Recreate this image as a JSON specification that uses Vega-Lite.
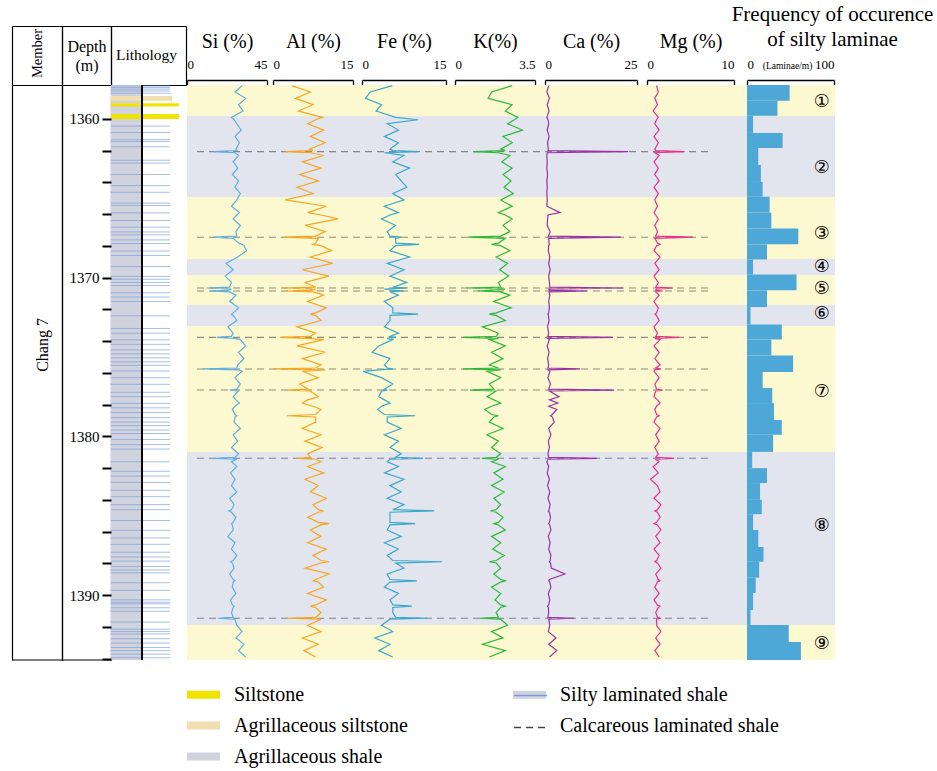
{
"$schema":"https://vega.github.io/schema/vega-lite/v6.json",
"width":823,"height":575,
"autosize":{"type":"none"},
"padding":{"left":12,"top":85,"right":102,"bottom":111},
"background":"white",
"config":{"view":{"stroke":null},"font":"Liberation Serif","axis":{"grid":false,"labelFont":"Liberation Serif","titleFont":"Liberation Serif","labelColor":"black","titleColor":"black","titleFontWeight":"normal"}},
"datasets":{
"bands":[{"top":1357.86,"bottom":1359.81,"zone":"silt"},{"top":1359.81,"bottom":1364.91,"zone":"shale"},{"top":1364.91,"bottom":1368.82,"zone":"silt"},{"top":1368.82,"bottom":1369.83,"zone":"shale"},{"top":1369.83,"bottom":1371.72,"zone":"silt"},{"top":1371.72,"bottom":1373.04,"zone":"shale"},{"top":1373.04,"bottom":1380.98,"zone":"silt"},{"top":1380.98,"bottom":1391.88,"zone":"shale"},{"top":1391.88,"bottom":1394.09,"zone":"silt"}],
"curves":[
{"depth":1357.9,"si":31,"al":3.5,"fe":5.4,"k":2.5,"ca":1.0,"mg":1.1},
{"depth":1358.3,"si":27,"al":7,"fe":1.5,"k":1.6,"ca":0.5,"mg":1.3},
{"depth":1358.7,"si":33,"al":4.2,"fe":0.6,"k":1.45,"ca":1.2,"mg":0.9},
{"depth":1359.1,"si":29,"al":7.5,"fe":3.5,"k":2.5,"ca":0.6,"mg":1.2},
{"depth":1359.5,"si":31.5,"al":4.8,"fe":2.5,"k":2.2,"ca":1.1,"mg":0.7},
{"depth":1359.9,"si":25,"al":9.3,"fe":6,"k":2.75,"ca":0.5,"mg":1.3},
{"depth":1360.05,"si":26.5,"al":8,"fe":10,"k":2.6,"ca":0.8,"mg":1.1},
{"depth":1360.3,"si":28,"al":6.5,"fe":4.5,"k":2.3,"ca":1.0,"mg":0.9},
{"depth":1360.7,"si":30.5,"al":9.5,"fe":6.5,"k":2.95,"ca":0.6,"mg":1.4},
{"depth":1361.1,"si":27,"al":7,"fe":4,"k":2.1,"ca":1.1,"mg":0.8},
{"depth":1361.5,"si":29.5,"al":9.8,"fe":6.5,"k":2.5,"ca":0.7,"mg":1.3},
{"depth":1361.9,"si":27.5,"al":6.8,"fe":5,"k":2.0,"ca":0.9,"mg":0.9},
{"depth":1361.99,"si":28,"al":7.5,"fe":5.5,"k":2.2,"ca":0.8,"mg":1.0},
{"depth":1362.06,"si":14.8,"al":2.3,"fe":10,"k":0.8,"ca":22.6,"mg":4.3},
{"depth":1362.13,"si":27,"al":7,"fe":4,"k":1.9,"ca":0.6,"mg":0.9},
{"depth":1362.3,"si":29,"al":9.5,"fe":7.5,"k":2.4,"ca":0.5,"mg":1.4},
{"depth":1362.7,"si":26,"al":5.5,"fe":5.5,"k":2.05,"ca":0.6,"mg":0.8},
{"depth":1363.1,"si":28.5,"al":9,"fe":8.5,"k":2.5,"ca":0.5,"mg":1.3},
{"depth":1363.5,"si":25.5,"al":5,"fe":6,"k":2.1,"ca":0.7,"mg":0.9},
{"depth":1363.9,"si":29,"al":8.5,"fe":7,"k":2.45,"ca":0.5,"mg":1.4},
{"depth":1364.3,"si":27,"al":4.5,"fe":8,"k":2.15,"ca":0.6,"mg":0.8},
{"depth":1364.7,"si":30,"al":7.5,"fe":5.5,"k":2.55,"ca":0.5,"mg":1.3},
{"depth":1365.1,"si":28,"al":2.3,"fe":7.5,"k":2.0,"ca":0.6,"mg":0.9},
{"depth":1365.5,"si":25,"al":10,"fe":4,"k":2.5,"ca":0.5,"mg":1.2},
{"depth":1365.9,"si":29.5,"al":6.5,"fe":6.5,"k":1.9,"ca":4.1,"mg":0.8},
{"depth":1366.05,"si":28,"al":9,"fe":5,"k":2.2,"ca":0.8,"mg":1.0},
{"depth":1366.3,"si":26,"al":12.2,"fe":3.5,"k":2.5,"ca":0.7,"mg":1.3},
{"depth":1366.7,"si":30,"al":6,"fe":6,"k":2.1,"ca":0.6,"mg":0.9},
{"depth":1367.1,"si":27.5,"al":9.8,"fe":4.5,"k":2.4,"ca":1.4,"mg":1.2},
{"depth":1367.38,"si":28,"al":8,"fe":5,"k":2.0,"ca":0.9,"mg":1.0},
{"depth":1367.45,"si":14.8,"al":1.9,"fe":7,"k":0.57,"ca":20.6,"mg":5.3},
{"depth":1367.52,"si":26,"al":8.5,"fe":6,"k":2.2,"ca":1.0,"mg":0.9},
{"depth":1367.82,"si":29,"al":8,"fe":6,"k":1.9,"ca":1.1,"mg":1.2},
{"depth":1367.9,"si":31,"al":7.5,"fe":10.2,"k":1.6,"ca":1.2,"mg":1.5},
{"depth":1367.98,"si":32,"al":9,"fe":6,"k":2.0,"ca":1.0,"mg":1.1},
{"depth":1368.3,"si":33.5,"al":11,"fe":5,"k":2.4,"ca":0.9,"mg":0.8},
{"depth":1368.7,"si":28.5,"al":7,"fe":8.5,"k":1.8,"ca":1.3,"mg":1.5},
{"depth":1369.1,"si":22,"al":11.2,"fe":4.5,"k":2.3,"ca":1.0,"mg":0.9},
{"depth":1369.5,"si":26,"al":5.5,"fe":7.5,"k":1.95,"ca":1.4,"mg":1.4},
{"depth":1369.9,"si":21.5,"al":10.5,"fe":5,"k":2.35,"ca":1.0,"mg":0.8},
{"depth":1370.3,"si":25,"al":6,"fe":8,"k":1.9,"ca":1.2,"mg":1.3},
{"depth":1370.6,"si":24,"al":8,"fe":5.5,"k":2.0,"ca":1.3,"mg":1.0},
{"depth":1370.65,"si":11,"al":1.7,"fe":8,"k":0.5,"ca":21.2,"mg":3.0},
{"depth":1370.72,"si":25,"al":8,"fe":4,"k":2.2,"ca":1.0,"mg":1.1},
{"depth":1370.8,"si":23,"al":7,"fe":6,"k":1.5,"ca":1.2,"mg":1.0},
{"depth":1370.84,"si":13,"al":2.5,"fe":7.5,"k":1.0,"ca":11.4,"mg":1.8},
{"depth":1370.9,"si":24,"al":7.5,"fe":5,"k":2.0,"ca":1.1,"mg":1.0},
{"depth":1371.1,"si":27.5,"al":9.5,"fe":6.5,"k":2.4,"ca":1.3,"mg":1.4},
{"depth":1371.5,"si":24,"al":6.5,"fe":4,"k":1.7,"ca":1.0,"mg":0.8},
{"depth":1371.9,"si":29,"al":10,"fe":5.5,"k":2.45,"ca":1.2,"mg":1.3},
{"depth":1372.22,"si":26,"al":8,"fe":5.5,"k":1.8,"ca":1.0,"mg":1.1},
{"depth":1372.3,"si":25,"al":7,"fe":10,"k":1.5,"ca":0.8,"mg":0.9},
{"depth":1372.38,"si":26,"al":8,"fe":5,"k":1.8,"ca":0.9,"mg":1.1},
{"depth":1372.7,"si":28,"al":9,"fe":5,"k":2.2,"ca":1.1,"mg":1.4},
{"depth":1373.1,"si":23,"al":4.5,"fe":4,"k":1.2,"ca":0.7,"mg":0.8},
{"depth":1373.5,"si":26,"al":8,"fe":6.5,"k":1.9,"ca":1.0,"mg":1.2},
{"depth":1373.7,"si":25,"al":7,"fe":5,"k":1.8,"ca":0.8,"mg":1.0},
{"depth":1373.76,"si":16.7,"al":1.3,"fe":6,"k":0.35,"ca":18.5,"mg":3.7},
{"depth":1373.82,"si":27,"al":6.5,"fe":4.5,"k":1.9,"ca":0.7,"mg":0.9},
{"depth":1373.9,"si":30,"al":9.5,"fe":5.5,"k":1.5,"ca":1.2,"mg":1.5},
{"depth":1374.3,"si":33,"al":4.5,"fe":3,"k":2.2,"ca":0.6,"mg":0.8},
{"depth":1374.7,"si":29,"al":9.8,"fe":1.8,"k":1.6,"ca":1.1,"mg":1.4},
{"depth":1375.1,"si":32,"al":5.5,"fe":5,"k":2.1,"ca":0.7,"mg":0.9},
{"depth":1375.5,"si":28.5,"al":9,"fe":4,"k":1.5,"ca":1.0,"mg":1.5},
{"depth":1375.69,"si":28,"al":8,"fe":4.5,"k":1.9,"ca":0.8,"mg":1.0},
{"depth":1375.75,"si":9,"al":0.2,"fe":5.5,"k":0.35,"ca":9.5,"mg":1.6},
{"depth":1375.81,"si":29,"al":9.8,"fe":3,"k":2.0,"ca":0.9,"mg":0.9},
{"depth":1375.9,"si":31,"al":5.5,"fe":0.2,"k":1.4,"ca":1.3,"mg":0.8},
{"depth":1376.3,"si":27,"al":8.5,"fe":3.5,"k":2.0,"ca":0.8,"mg":1.4},
{"depth":1376.7,"si":30,"al":5,"fe":5.5,"k":1.5,"ca":1.5,"mg":0.9},
{"depth":1377.02,"si":28,"al":6.5,"fe":4,"k":1.7,"ca":1.0,"mg":1.1},
{"depth":1377.08,"si":24,"al":2.8,"fe":4.5,"k":0.66,"ca":18.8,"mg":1.8},
{"depth":1377.14,"si":29,"al":7,"fe":3.5,"k":1.8,"ca":1.2,"mg":1.0},
{"depth":1377.5,"si":26,"al":8.5,"fe":3,"k":1.4,"ca":3.8,"mg":0.8},
{"depth":1377.7,"si":27.5,"al":6.5,"fe":4,"k":1.7,"ca":1.2,"mg":1.2},
{"depth":1377.9,"si":29.5,"al":5.5,"fe":5,"k":2.0,"ca":3.5,"mg":1.5},
{"depth":1378.1,"si":27,"al":7.5,"fe":3.5,"k":1.6,"ca":1.0,"mg":1.1},
{"depth":1378.3,"si":25.5,"al":9,"fe":2.8,"k":1.3,"ca":3.2,"mg":0.9},
{"depth":1378.62,"si":27,"al":8,"fe":4,"k":1.6,"ca":2.0,"mg":1.1},
{"depth":1378.7,"si":28,"al":2.6,"fe":9.5,"k":1.9,"ca":1.5,"mg":1.4},
{"depth":1378.78,"si":27,"al":8,"fe":4.5,"k":1.7,"ca":2.0,"mg":1.1},
{"depth":1379.1,"si":26.5,"al":8,"fe":4.5,"k":1.5,"ca":2.5,"mg":0.8},
{"depth":1379.5,"si":30,"al":5.5,"fe":7,"k":2.1,"ca":1.0,"mg":1.5},
{"depth":1379.9,"si":26,"al":9,"fe":4,"k":1.4,"ca":1.6,"mg":1.0},
{"depth":1380.3,"si":28.5,"al":6,"fe":6.5,"k":1.9,"ca":0.9,"mg":1.4},
{"depth":1380.7,"si":25,"al":9.2,"fe":5,"k":1.6,"ca":1.2,"mg":0.9},
{"depth":1381.1,"si":29,"al":6.5,"fe":7,"k":2.0,"ca":0.8,"mg":1.3},
{"depth":1381.32,"si":27,"al":7,"fe":6,"k":1.8,"ca":1.0,"mg":1.0},
{"depth":1381.38,"si":15.8,"al":4.5,"fe":10.9,"k":1.18,"ca":14.1,"mg":3.1},
{"depth":1381.44,"si":28,"al":8,"fe":5,"k":1.9,"ca":0.8,"mg":1.0},
{"depth":1381.6,"si":25,"al":9,"fe":4.5,"k":1.6,"ca":0.5,"mg":1.4},
{"depth":1381.9,"si":28,"al":6.5,"fe":6.5,"k":2.2,"ca":1.0,"mg":0.7},
{"depth":1382.3,"si":24.5,"al":9.5,"fe":4,"k":1.7,"ca":0.6,"mg":1.3},
{"depth":1382.7,"si":27,"al":6,"fe":7.5,"k":2.1,"ca":1.2,"mg":0.4},
{"depth":1383.1,"si":25,"al":8.5,"fe":5,"k":1.6,"ca":0.7,"mg":1.2},
{"depth":1383.5,"si":28,"al":7,"fe":7,"k":2.15,"ca":1.3,"mg":1.5},
{"depth":1383.9,"si":24,"al":10,"fe":4.5,"k":1.7,"ca":0.8,"mg":0.8},
{"depth":1384.3,"si":26.5,"al":7.5,"fe":7.5,"k":2.0,"ca":1.4,"mg":1.6},
{"depth":1384.62,"si":25,"al":8.5,"fe":5.5,"k":1.8,"ca":1.1,"mg":1.2},
{"depth":1384.7,"si":23.5,"al":9.5,"fe":12.9,"k":1.55,"ca":0.9,"mg":0.9},
{"depth":1384.78,"si":25,"al":8.5,"fe":5,"k":1.8,"ca":1.2,"mg":1.2},
{"depth":1385.1,"si":27.5,"al":6.5,"fe":5,"k":2.1,"ca":1.5,"mg":1.5},
{"depth":1385.42,"si":26,"al":8.5,"fe":5,"k":1.9,"ca":1.2,"mg":1.1},
{"depth":1385.5,"si":25,"al":10.5,"fe":9.5,"k":1.7,"ca":1.0,"mg":0.8},
{"depth":1385.58,"si":25.5,"al":9,"fe":5,"k":1.9,"ca":1.3,"mg":1.2},
{"depth":1385.9,"si":26,"al":7,"fe":4.5,"k":2.2,"ca":1.6,"mg":1.6},
{"depth":1386.3,"si":23,"al":9,"fe":7,"k":1.6,"ca":0.9,"mg":1.0},
{"depth":1386.7,"si":27,"al":6.5,"fe":4,"k":2.0,"ca":1.4,"mg":1.5},
{"depth":1387.1,"si":25,"al":10,"fe":6.5,"k":1.65,"ca":1.0,"mg":0.8},
{"depth":1387.5,"si":28,"al":7.5,"fe":4.5,"k":2.15,"ca":1.6,"mg":1.4},
{"depth":1387.82,"si":26,"al":9,"fe":5.5,"k":1.8,"ca":1.4,"mg":1.1},
{"depth":1387.9,"si":24.5,"al":10.5,"fe":14.3,"k":1.5,"ca":1.2,"mg":0.9},
{"depth":1387.98,"si":25.5,"al":9,"fe":6,"k":1.8,"ca":1.5,"mg":1.2},
{"depth":1388.3,"si":26.5,"al":6,"fe":7.5,"k":2.0,"ca":1.7,"mg":1.6},
{"depth":1388.67,"si":24,"al":10.5,"fe":4.5,"k":1.7,"ca":5.4,"mg":1.0},
{"depth":1389.02,"si":26,"al":8,"fe":5,"k":2.0,"ca":1.2,"mg":1.3},
{"depth":1389.1,"si":27,"al":7.5,"fe":9.8,"k":2.2,"ca":1.0,"mg":1.5},
{"depth":1389.18,"si":26,"al":8.5,"fe":5,"k":2.0,"ca":1.3,"mg":1.2},
{"depth":1389.5,"si":25.5,"al":9.5,"fe":4,"k":1.6,"ca":1.6,"mg":0.9},
{"depth":1389.9,"si":27.5,"al":6.5,"fe":6.5,"k":2.0,"ca":0.9,"mg":1.4},
{"depth":1390.3,"si":24.5,"al":10,"fe":5,"k":1.75,"ca":1.3,"mg":0.8},
{"depth":1390.62,"si":25.5,"al":8,"fe":5.5,"k":2.0,"ca":1.0,"mg":1.2},
{"depth":1390.7,"si":26.5,"al":7,"fe":8.9,"k":2.2,"ca":0.7,"mg":1.5},
{"depth":1390.78,"si":26,"al":8,"fe":5.5,"k":2.0,"ca":0.9,"mg":1.3},
{"depth":1391.1,"si":25,"al":9,"fe":5.5,"k":1.8,"ca":1.0,"mg":1.0},
{"depth":1391.4,"si":26,"al":8,"fe":6,"k":1.9,"ca":0.8,"mg":1.2},
{"depth":1391.46,"si":17.6,"al":2.6,"fe":11.6,"k":1.1,"ca":7.9,"mg":1.6},
{"depth":1391.52,"si":27,"al":9,"fe":5,"k":2.0,"ca":1.0,"mg":1.1},
{"depth":1391.9,"si":28,"al":6.5,"fe":3.5,"k":2.3,"ca":1.3,"mg":1.1},
{"depth":1392.3,"si":31,"al":9,"fe":5.5,"k":1.6,"ca":0.9,"mg":1.6},
{"depth":1392.7,"si":27.5,"al":5.5,"fe":2.3,"k":2.1,"ca":3.0,"mg":1.0},
{"depth":1393.1,"si":32,"al":8.5,"fe":5,"k":1.2,"ca":1.0,"mg":1.5},
{"depth":1393.5,"si":29,"al":5.8,"fe":3,"k":2.2,"ca":3.2,"mg":0.9},
{"depth":1393.9,"si":33,"al":8,"fe":5.5,"k":1.5,"ca":1.2,"mg":1.4}
],
"freq":[{"top":1357.86,"bottom":1358.85,"freq":49},{"top":1358.85,"bottom":1359.8,"freq":35},{"top":1359.8,"bottom":1360.88,"freq":7},{"top":1360.88,"bottom":1361.83,"freq":41},{"top":1361.83,"bottom":1362.9,"freq":13},{"top":1362.9,"bottom":1363.97,"freq":16},{"top":1363.97,"bottom":1364.9,"freq":18},{"top":1364.9,"bottom":1365.9,"freq":26},{"top":1365.9,"bottom":1366.9,"freq":28},{"top":1366.9,"bottom":1367.9,"freq":59},{"top":1367.9,"bottom":1368.85,"freq":23},{"top":1368.85,"bottom":1369.8,"freq":7},{"top":1369.8,"bottom":1370.8,"freq":57},{"top":1370.8,"bottom":1371.85,"freq":23},{"top":1371.85,"bottom":1372.95,"freq":4},{"top":1372.95,"bottom":1373.9,"freq":40},{"top":1373.9,"bottom":1374.9,"freq":28},{"top":1374.9,"bottom":1375.94,"freq":53},{"top":1375.94,"bottom":1376.95,"freq":18},{"top":1376.95,"bottom":1377.9,"freq":29},{"top":1377.9,"bottom":1378.97,"freq":31},{"top":1378.97,"bottom":1379.9,"freq":40},{"top":1379.9,"bottom":1380.98,"freq":30},{"top":1380.98,"bottom":1382.0,"freq":6},{"top":1382.0,"bottom":1382.94,"freq":23},{"top":1382.94,"bottom":1384.0,"freq":15},{"top":1384.0,"bottom":1384.9,"freq":17},{"top":1384.9,"bottom":1385.9,"freq":7},{"top":1385.9,"bottom":1386.97,"freq":13},{"top":1386.97,"bottom":1387.9,"freq":19},{"top":1387.9,"bottom":1388.9,"freq":14},{"top":1388.9,"bottom":1389.87,"freq":10},{"top":1389.87,"bottom":1390.94,"freq":7},{"top":1390.94,"bottom":1391.88,"freq":4},{"top":1391.88,"bottom":1392.95,"freq":48},{"top":1392.95,"bottom":1394.09,"freq":62}],
"laminae":[{"depth":1357.92,"kind":"Silty laminated shale"},{"depth":1358.02,"kind":"Silty laminated shale"},{"depth":1358.12,"kind":"Silty laminated shale"},{"depth":1358.24,"kind":"Silty laminated shale"},{"depth":1358.38,"kind":"Silty laminated shale"},{"depth":1360.45,"kind":"Silty laminated shale"},{"depth":1360.85,"kind":"Silty laminated shale"},{"depth":1361.3,"kind":"Silty laminated shale"},{"depth":1361.42,"kind":"Silty laminated shale"},{"depth":1361.75,"kind":"Silty laminated shale"},{"depth":1362.6,"kind":"Silty laminated shale"},{"depth":1362.78,"kind":"Silty laminated shale"},{"depth":1363.5,"kind":"Silty laminated shale"},{"depth":1364.2,"kind":"Silty laminated shale"},{"depth":1364.62,"kind":"Silty laminated shale"},{"depth":1365.3,"kind":"Silty laminated shale"},{"depth":1365.45,"kind":"Silty laminated shale"},{"depth":1365.92,"kind":"Silty laminated shale"},{"depth":1366.4,"kind":"Silty laminated shale"},{"depth":1366.82,"kind":"Silty laminated shale"},{"depth":1367.12,"kind":"Silty laminated shale"},{"depth":1367.3,"kind":"Silty laminated shale"},{"depth":1367.62,"kind":"Silty laminated shale"},{"depth":1367.85,"kind":"Silty laminated shale"},{"depth":1368.32,"kind":"Silty laminated shale"},{"depth":1368.6,"kind":"Silty laminated shale"},{"depth":1369.3,"kind":"Silty laminated shale"},{"depth":1369.92,"kind":"Silty laminated shale"},{"depth":1370.1,"kind":"Silty laminated shale"},{"depth":1370.3,"kind":"Silty laminated shale"},{"depth":1370.5,"kind":"Silty laminated shale"},{"depth":1370.95,"kind":"Silty laminated shale"},{"depth":1371.22,"kind":"Silty laminated shale"},{"depth":1371.5,"kind":"Silty laminated shale"},{"depth":1372.4,"kind":"Silty laminated shale"},{"depth":1373.2,"kind":"Silty laminated shale"},{"depth":1373.5,"kind":"Silty laminated shale"},{"depth":1373.92,"kind":"Silty laminated shale"},{"depth":1374.2,"kind":"Silty laminated shale"},{"depth":1374.55,"kind":"Silty laminated shale"},{"depth":1374.8,"kind":"Silty laminated shale"},{"depth":1375.05,"kind":"Silty laminated shale"},{"depth":1375.3,"kind":"Silty laminated shale"},{"depth":1375.52,"kind":"Silty laminated shale"},{"depth":1375.88,"kind":"Silty laminated shale"},{"depth":1376.3,"kind":"Silty laminated shale"},{"depth":1376.72,"kind":"Silty laminated shale"},{"depth":1377.22,"kind":"Silty laminated shale"},{"depth":1377.5,"kind":"Silty laminated shale"},{"depth":1377.92,"kind":"Silty laminated shale"},{"depth":1378.2,"kind":"Silty laminated shale"},{"depth":1378.5,"kind":"Silty laminated shale"},{"depth":1378.82,"kind":"Silty laminated shale"},{"depth":1379.1,"kind":"Silty laminated shale"},{"depth":1379.32,"kind":"Silty laminated shale"},{"depth":1379.6,"kind":"Silty laminated shale"},{"depth":1379.82,"kind":"Silty laminated shale"},{"depth":1380.2,"kind":"Silty laminated shale"},{"depth":1380.52,"kind":"Silty laminated shale"},{"depth":1380.8,"kind":"Silty laminated shale"},{"depth":1381.6,"kind":"Silty laminated shale"},{"depth":1382.2,"kind":"Silty laminated shale"},{"depth":1382.5,"kind":"Silty laminated shale"},{"depth":1382.9,"kind":"Silty laminated shale"},{"depth":1383.4,"kind":"Silty laminated shale"},{"depth":1383.8,"kind":"Silty laminated shale"},{"depth":1384.3,"kind":"Silty laminated shale"},{"depth":1384.62,"kind":"Silty laminated shale"},{"depth":1385.3,"kind":"Silty laminated shale"},{"depth":1385.92,"kind":"Silty laminated shale"},{"depth":1386.4,"kind":"Silty laminated shale"},{"depth":1386.8,"kind":"Silty laminated shale"},{"depth":1387.3,"kind":"Silty laminated shale"},{"depth":1387.6,"kind":"Silty laminated shale"},{"depth":1387.86,"kind":"Silty laminated shale"},{"depth":1388.2,"kind":"Silty laminated shale"},{"depth":1388.42,"kind":"Silty laminated shale"},{"depth":1388.6,"kind":"Silty laminated shale"},{"depth":1389.22,"kind":"Silty laminated shale"},{"depth":1389.7,"kind":"Silty laminated shale"},{"depth":1390.3,"kind":"Silty laminated shale"},{"depth":1390.45,"kind":"Silty laminated shale"},{"depth":1390.55,"kind":"Silty laminated shale"},{"depth":1390.8,"kind":"Silty laminated shale"},{"depth":1391.02,"kind":"Silty laminated shale"},{"depth":1391.7,"kind":"Silty laminated shale"},{"depth":1392.15,"kind":"Silty laminated shale"},{"depth":1392.3,"kind":"Silty laminated shale"},{"depth":1392.45,"kind":"Silty laminated shale"},{"depth":1392.75,"kind":"Silty laminated shale"},{"depth":1393.02,"kind":"Silty laminated shale"},{"depth":1393.3,"kind":"Silty laminated shale"},{"depth":1393.5,"kind":"Silty laminated shale"},{"depth":1393.72,"kind":"Silty laminated shale"},{"depth":1393.95,"kind":"Silty laminated shale"}],
"calcareous":[{"depth":1362.06,"kind":"Calcareous laminated shale"},{"depth":1367.45,"kind":"Calcareous laminated shale"},{"depth":1370.65,"kind":"Calcareous laminated shale"},{"depth":1370.84,"kind":"Calcareous laminated shale"},{"depth":1373.76,"kind":"Calcareous laminated shale"},{"depth":1375.75,"kind":"Calcareous laminated shale"},{"depth":1377.08,"kind":"Calcareous laminated shale"},{"depth":1381.38,"kind":"Calcareous laminated shale"},{"depth":1391.46,"kind":"Calcareous laminated shale"}],
"siltbeds":[{"top":1358.55,"bottom":1358.85,"lith":"Agrillaceous siltstone"},{"top":1359.01,"bottom":1359.22,"lith":"Siltstone"},{"top":1359.68,"bottom":1360.0,"lith":"Siltstone"}],
"zones":[{"depth":1358.93,"label":"①"},{"depth":1363.09,"label":"②"},{"depth":1367.25,"label":"③"},{"depth":1369.33,"label":"④"},{"depth":1370.71,"label":"⑤"},{"depth":1372.29,"label":"⑥"},{"depth":1377.2,"label":"⑦"},{"depth":1385.65,"label":"⑧"},{"depth":1393.08,"label":"⑨"}]
},
"layer":[
{"data":{"name":"bands"},"mark":{"type":"rect"},
 "encoding":{
  "x":{"datum":0,"type":"quantitative","scale":{"domain":[0,1],"range":[175,823],"nice":false,"zero":false},"axis":null},
  "x2":{"datum":1},
  "y":{"field":"top","type":"quantitative","scale":{"domain":[1357.86,1394.09],"reverse":true,"nice":false,"zero":false},
   "axis":{"orient":"left","offset":-99,"values":[1360,1362,1364,1366,1368,1370,1372,1374,1376,1378,1380,1382,1384,1386,1388,1390,1392,1394],"labelExpr":"datum.value % 10 === 0 ? '' + datum.value : ''","tickSize":9,"tickWidth":2,"tickColor":"black","domain":false,"grid":false,"labelFontSize":15,"labelPadding":3,"labelBaseline":"middle","labelOverlap":false,"title":null,"zindex":2}},
  "y2":{"field":"bottom"},
  "color":{"field":"zone","type":"nominal","scale":{"domain":["silt","shale"],"range":["#fcf8cf","#e3e5ee"]},"legend":null}}},
{"data":{"values":[{"lith":"Agrillaceous shale"}]},"mark":{"type":"rect"},
 "encoding":{
  "x":{"datum":0,"type":"quantitative","scale":{"domain":[0,1],"range":[99,174],"nice":false,"zero":false},
   "axis":{"orient":"top","values":[0,1],"labels":false,"ticks":true,"tickSize":59,"tickColor":"black","tickWidth":1.2,"domain":true,"domainColor":"black","domainWidth":1.2,"grid":false,"title":"Lithology","titleX":134,"titleY":-26,"titleBaseline":"alphabetic","titleAlign":"center","titleAngle":0,"titleFontSize":15.5}},
  "x2":{"datum":0.4133},
  "fill":{"field":"lith","type":"nominal","scale":{"domain":["Siltstone","Agrillaceous siltstone","Agrillaceous shale","Silty laminated shale","Calcareous laminated shale"],"range":["#f0e300","#f1deb0","#d0d3de","#d0d3de","rgba(0,0,0,0)"]},
   "legend":{"orient":"none","legendX":175,"legendY":593,"columns":2,"title":null,"symbolType":"M-1,-0.24H1V0.24H-1Z","symbolSize":1089,"symbolStrokeWidth":0,"symbolOpacity":1,"labelFont":"Liberation Serif","labelFontSize":20,"labelColor":"black","labelOffset":14,"labelLimit":400,"columnPadding":105,"rowPadding":4,"padding":0}}}},
{"data":{"name":"laminae"},"mark":{"type":"rule","strokeWidth":1,"strokeOpacity":0.65},
 "encoding":{
  "x":{"datum":0,"type":"quantitative","scale":{"domain":[0,1],"range":[99,158],"nice":false,"zero":false},"axis":null},
  "x2":{"datum":1},
  "y":{"field":"depth","type":"quantitative","scale":{"domain":[1357.86,1394.09],"reverse":true,"nice":false,"zero":false},"axis":null},
  "stroke":{"field":"kind","type":"nominal","scale":{"domain":["Silty laminated shale","Calcareous laminated shale"],"range":["#7b9bd8","#444444"]},
   "legend":{"orient":"none","legendX":501,"legendY":593,"columns":1,"title":null,"symbolType":"M-1,0H1","symbolSize":1089,"symbolStrokeWidth":1.6,"labelFont":"Liberation Serif","labelFontSize":20,"labelExpr":"' '","labelOpacity":0,"labelOffset":14,"labelLimit":400,"rowPadding":4,"padding":0}},
  "strokeDash":{"field":"kind","type":"nominal","scale":{"domain":["Silty laminated shale","Calcareous laminated shale"],"range":[[1,0],[7,5]]},
   "legend":{"orient":"none","legendX":501,"legendY":593,"columns":1,"title":null,"symbolType":"M-1,0H1","symbolSize":1089,"symbolStrokeWidth":1.6,"labelFont":"Liberation Serif","labelFontSize":20,"labelExpr":"' '","labelOpacity":0,"labelOffset":14,"labelLimit":400,"rowPadding":4,"padding":0}}}},
{"data":{"name":"siltbeds"},"transform":[{"filter":"datum.lith === 'Siltstone'"}],"mark":{"type":"rect"},
 "encoding":{
  "x":{"datum":0,"type":"quantitative","scale":{"domain":[0,1],"range":[99,167],"nice":false,"zero":false},"axis":null},
  "x2":{"datum":1},
  "y":{"field":"top","type":"quantitative","scale":{"domain":[1357.86,1394.09],"reverse":true,"nice":false,"zero":false},"axis":null},
  "y2":{"field":"bottom"},
  "fill":{"field":"lith","type":"nominal","scale":{"domain":["Siltstone","Agrillaceous siltstone","Agrillaceous shale","Silty laminated shale","Calcareous laminated shale"],"range":["#f0e300","#f1deb0","#d0d3de","#d0d3de","rgba(0,0,0,0)"]},"legend":null}}},
{"data":{"name":"siltbeds"},"transform":[{"filter":"datum.lith === 'Agrillaceous siltstone'"}],"mark":{"type":"rect"},
 "encoding":{
  "x":{"datum":0,"type":"quantitative","scale":{"domain":[0,1],"range":[99,160],"nice":false,"zero":false},"axis":null},
  "x2":{"datum":1},
  "y":{"field":"top","type":"quantitative","scale":{"domain":[1357.86,1394.09],"reverse":true,"nice":false,"zero":false},"axis":null},
  "y2":{"field":"bottom"},
  "fill":{"field":"lith","type":"nominal","scale":{"domain":["Siltstone","Agrillaceous siltstone","Agrillaceous shale","Silty laminated shale","Calcareous laminated shale"],"range":["#f0e300","#f1deb0","#d0d3de","#d0d3de","rgba(0,0,0,0)"]},"legend":null}}},
{"data":{"values":[{"line":"lithology edge"}]},"mark":{"type":"rule","color":"black","strokeWidth":2},
 "encoding":{"x":{"datum":0,"type":"quantitative","scale":{"domain":[0,1],"range":[130,131],"nice":false,"zero":false},"axis":null}}},
{"data":{"name":"calcareous"},"mark":{"type":"rule","strokeWidth":1.1,"strokeOpacity":0.6},
 "encoding":{
  "x":{"datum":0,"type":"quantitative","scale":{"domain":[0,1],"range":[185,696],"nice":false,"zero":false},"axis":null},
  "x2":{"datum":1},
  "y":{"field":"depth","type":"quantitative","scale":{"domain":[1357.86,1394.09],"reverse":true,"nice":false,"zero":false},"axis":null},
  "stroke":{"field":"kind","type":"nominal","scale":{"domain":["Silty laminated shale","Calcareous laminated shale"],"range":["#7b9bd8","#444444"]},"legend":null},
  "strokeDash":{"field":"kind","type":"nominal","scale":{"domain":["Silty laminated shale","Calcareous laminated shale"],"range":[[1,0],[7,5]]},"legend":null}}},
{"data":{"name":"curves"},"mark":{"type":"line","color":"#5bb0e0","strokeWidth":1.2},
 "encoding":{
  "x":{"field":"si","type":"quantitative","scale":{"domain":[0,45],"range":[175,255],"nice":false,"zero":false},
   "axis":{"orient":"top","offset":5,"values":[0,45],"labelExpr":"'' + datum.value","labelFlush":true,"labelOverlap":false,"labelFontSize":13,"labelPadding":17,"labelBaseline":"alphabetic","tickSize":-5,"tickWidth":1.3,"tickColor":"black","domainColor":"black","domainWidth":1.3,"grid":false,"title":"Si (%)","titleFontSize":20,"titleY":-33,"titleBaseline":"alphabetic"}},
  "y":{"field":"depth","type":"quantitative","scale":{"domain":[1357.86,1394.09],"reverse":true,"nice":false,"zero":false},"axis":null},
  "order":{"field":"depth","type":"quantitative"}}},
{"data":{"name":"curves"},"mark":{"type":"line","color":"#f6a623","strokeWidth":1.2},
 "encoding":{
  "x":{"field":"al","type":"quantitative","scale":{"domain":[0,15],"range":[261,341],"nice":false,"zero":false},
   "axis":{"orient":"top","offset":5,"values":[0,15],"labelExpr":"'' + datum.value","labelFlush":true,"labelOverlap":false,"labelFontSize":13,"labelPadding":17,"labelBaseline":"alphabetic","tickSize":-5,"tickWidth":1.3,"tickColor":"black","domainColor":"black","domainWidth":1.3,"grid":false,"title":"Al (%)","titleFontSize":20,"titleY":-33,"titleBaseline":"alphabetic"}},
  "y":{"field":"depth","type":"quantitative","scale":{"domain":[1357.86,1394.09],"reverse":true,"nice":false,"zero":false},"axis":null},
  "order":{"field":"depth","type":"quantitative"}}},
{"data":{"name":"curves"},"mark":{"type":"line","color":"#3aa8c8","strokeWidth":1.2},
 "encoding":{
  "x":{"field":"fe","type":"quantitative","scale":{"domain":[0,15],"range":[350,434],"nice":false,"zero":false},
   "axis":{"orient":"top","offset":5,"values":[0,15],"labelExpr":"'' + datum.value","labelFlush":true,"labelOverlap":false,"labelFontSize":13,"labelPadding":17,"labelBaseline":"alphabetic","tickSize":-5,"tickWidth":1.3,"tickColor":"black","domainColor":"black","domainWidth":1.3,"grid":false,"title":"Fe (%)","titleFontSize":20,"titleY":-33,"titleBaseline":"alphabetic"}},
  "y":{"field":"depth","type":"quantitative","scale":{"domain":[1357.86,1394.09],"reverse":true,"nice":false,"zero":false},"axis":null},
  "order":{"field":"depth","type":"quantitative"}}},
{"data":{"name":"curves"},"mark":{"type":"line","color":"#2db83a","strokeWidth":1.2},
 "encoding":{
  "x":{"field":"k","type":"quantitative","scale":{"domain":[0,3.5],"range":[443,523],"nice":false,"zero":false},
   "axis":{"orient":"top","offset":5,"values":[0,3.5],"labelExpr":"'' + datum.value","labelFlush":true,"labelOverlap":false,"labelFontSize":13,"labelPadding":17,"labelBaseline":"alphabetic","tickSize":-5,"tickWidth":1.3,"tickColor":"black","domainColor":"black","domainWidth":1.3,"grid":false,"title":"K(%)","titleFontSize":20,"titleY":-33,"titleBaseline":"alphabetic"}},
  "y":{"field":"depth","type":"quantitative","scale":{"domain":[1357.86,1394.09],"reverse":true,"nice":false,"zero":false},"axis":null},
  "order":{"field":"depth","type":"quantitative"}}},
{"data":{"name":"curves"},"mark":{"type":"line","color":"#9932a8","strokeWidth":1.2},
 "encoding":{
  "x":{"field":"ca","type":"quantitative","scale":{"domain":[0,25],"range":[533,625],"nice":false,"zero":false},
   "axis":{"orient":"top","offset":5,"values":[0,25],"labelExpr":"'' + datum.value","labelFlush":true,"labelOverlap":false,"labelFontSize":13,"labelPadding":17,"labelBaseline":"alphabetic","tickSize":-5,"tickWidth":1.3,"tickColor":"black","domainColor":"black","domainWidth":1.3,"grid":false,"title":"Ca (%)","titleFontSize":20,"titleY":-33,"titleBaseline":"alphabetic"}},
  "y":{"field":"depth","type":"quantitative","scale":{"domain":[1357.86,1394.09],"reverse":true,"nice":false,"zero":false},"axis":null},
  "order":{"field":"depth","type":"quantitative"}}},
{"data":{"name":"curves"},"mark":{"type":"line","color":"#e6338c","strokeWidth":1.2},
 "encoding":{
  "x":{"field":"mg","type":"quantitative","scale":{"domain":[0,10],"range":[635,722],"nice":false,"zero":false},
   "axis":{"orient":"top","offset":5,"values":[0,10],"labelExpr":"'' + datum.value","labelFlush":true,"labelOverlap":false,"labelFontSize":13,"labelPadding":17,"labelBaseline":"alphabetic","tickSize":-5,"tickWidth":1.3,"tickColor":"black","domainColor":"black","domainWidth":1.3,"grid":false,"title":"Mg (%)","titleFontSize":20,"titleY":-33,"titleBaseline":"alphabetic"}},
  "y":{"field":"depth","type":"quantitative","scale":{"domain":[1357.86,1394.09],"reverse":true,"nice":false,"zero":false},"axis":null},
  "order":{"field":"depth","type":"quantitative"}}},
{"data":{"name":"freq"},"mark":{"type":"rect","color":"#4ea8d7"},
 "encoding":{
  "x":{"field":"freq","type":"quantitative","scale":{"domain":[0,100],"range":[735,822],"nice":false,"zero":false},
   "axis":{"orient":"top","offset":5,"values":[0,46,100],"labelExpr":"datum.value == 46 ? '(Laminae/m)' : '' + datum.value","labelFlush":true,"labelOverlap":false,"labelFontSize":{"condition":{"test":"datum.value == 46","value":9.5},"value":13},"labelPadding":17,"labelBaseline":"alphabetic","tickSize":-5,"tickWidth":1.3,"tickColor":"black","tickOpacity":{"condition":{"test":"datum.value == 46","value":0},"value":1},"domainColor":"black","domainWidth":1.3,"grid":false,"title":["Frequency of occurence","of silty laminae"],"titleFontSize":21,"titleX":820,"titleY":-60,"titleAlign":"center","titleBaseline":"alphabetic","titleLineHeight":25}},
  "x2":{"datum":0},
  "y":{"field":"top","type":"quantitative","scale":{"domain":[1357.86,1394.09],"reverse":true,"nice":false,"zero":false},"axis":null},
  "y2":{"field":"bottom"}}},
{"data":{"name":"zones"},"mark":{"type":"text","font":"DejaVu Sans","fontSize":18,"color":"black","align":"center","baseline":"middle"},
 "encoding":{
  "x":{"datum":86,"type":"quantitative","scale":{"domain":[0,100],"range":[735,822],"nice":false,"zero":false},"axis":null},
  "y":{"field":"depth","type":"quantitative","scale":{"domain":[1357.86,1394.09],"reverse":true,"nice":false,"zero":false},"axis":null},
  "text":{"field":"label"}}},
{"data":{"values":[{"member":"Chang 7"}]},"mark":{"type":"text","angle":270,"fontSize":16,"font":"Liberation Serif","color":"black","align":"center","baseline":"middle"},
 "encoding":{
  "x":{"datum":0.181,"type":"quantitative","scale":{"domain":[0,1],"range":[0,174],"nice":false,"zero":false},
   "axis":{"orient":"top","offset":59,"domain":true,"domainColor":"black","domainWidth":1.2,"ticks":false,"labels":false,"grid":false,"title":null}},
  "y":{"datum":1374.24,"type":"quantitative","scale":{"domain":[1357.86,1394.09],"reverse":true,"nice":false,"zero":false},"axis":null},
  "text":{"field":"member"}}},
{"data":{"values":[{"line":"member bottom"}]},"mark":{"type":"rule","color":"black","strokeWidth":1.2},
 "encoding":{
  "x":{"datum":0,"type":"quantitative","scale":{"domain":[0,1],"range":[0,50],"nice":false,"zero":false},
   "axis":{"orient":"top","values":[0,1],"labels":false,"ticks":true,"tickSize":59,"tickColor":"black","tickWidth":1.2,"domain":true,"domainColor":"black","domainWidth":1.2,"grid":true,"gridColor":"black","gridWidth":1.2,"gridOpacity":1,"title":"Member","titleAngle":270,"titleX":25,"titleY":-32,"titleAlign":"center","titleBaseline":"middle","titleFontSize":14.5}},
  "x2":{"datum":1},
  "y":{"datum":1394.09,"type":"quantitative","scale":{"domain":[1357.86,1394.09],"reverse":true,"nice":false,"zero":false},"axis":null}}},
{"data":{"values":[{"line":"depth bottom"}]},"mark":{"type":"rule","color":"black","strokeWidth":1.2},
 "encoding":{
  "x":{"datum":0,"type":"quantitative","scale":{"domain":[0,1],"range":[50,99],"nice":false,"zero":false},
   "axis":{"orient":"top","values":[0,1],"labels":false,"ticks":true,"tickSize":59,"tickColor":"black","tickWidth":1.2,"domain":true,"domainColor":"black","domainWidth":1.2,"grid":true,"gridColor":"black","gridWidth":1.2,"gridOpacity":1,"title":["Depth","(m)"],"titleX":74.5,"titleY":-33.3,"titleAlign":"center","titleBaseline":"alphabetic","titleLineHeight":18.5,"titleFontSize":16,"titleAngle":0}},
  "x2":{"datum":1},
  "y":{"datum":1394.09,"type":"quantitative","scale":{"domain":[1357.86,1394.09],"reverse":true,"nice":false,"zero":false},"axis":null}}}
],
"resolve":{"scale":{"x":"independent"},"axis":{"x":"independent","y":"independent"}}
}
